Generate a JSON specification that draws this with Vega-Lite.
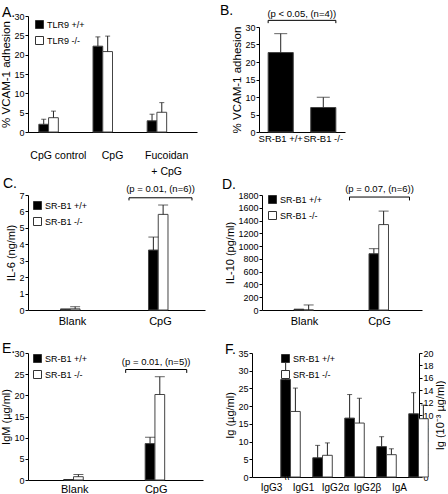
{
  "$schema": "https://vega.github.io/schema/vega-lite/v6.json",
  "padding": {"left": 0, "top": 4, "right": 0, "bottom": 0},
  "config": {
    "font": "Liberation Sans",
    "view": {"stroke": null},
    "axis": {"domainColor": "#000", "tickColor": "#000", "labelColor": "#000", "titleColor": "#000", "grid": false, "labelFontSize": 9, "titleFontSize": 11, "titleFontWeight": "normal", "tickSize": 3, "labelPadding": 1, "titlePadding": 2, "labelOverlap": false},
    "axisY": {"labelOverlap": false, "tickCount": 40, "format": "d"},
    "axisX": {"ticks": false, "labelAngle": 0, "labelFontSize": 11, "labelPadding": 5},
    "legend": {"orient": "none", "symbolType": "square", "symbolSize": 64, "symbolStrokeColor": "#333", "symbolStrokeWidth": 1, "labelFontSize": 9, "rowPadding": 3, "labelOffset": 3, "padding": 0},
    "title": {"fontSize": 14, "fontWeight": "normal", "anchor": "start", "frame": "group", "baseline": "alphabetic", "offset": 0},
    "text": {"fontSize": 9.5},
    "tick": {"thickness": 1}
  },
  "resolve": {"scale": {"fill": "independent"}, "legend": {"fill": "independent"}},
  "spacing": 16,
  "vconcat": [
    {
      "resolve": {"scale": {"fill": "independent"}, "legend": {"fill": "independent"}},
      "spacing": 0,
      "vconcat": [
        {
          "resolve": {"scale": {"fill": "independent"}, "legend": {"fill": "independent"}},
          "spacing": 23,
          "hconcat": [
            {
              "width": 169, "height": 116,
              "title": {"text": "A.", "dx": -26, "dy": 11.5},
              "data": {"values": [
                {"c": "CpG control", "g": "TLR9 +/+", "v": 2.0, "e": 3.3},
                {"c": "CpG control", "g": "TLR9 -/-", "v": 3.7, "e": 5.4},
                {"c": "CpG", "g": "TLR9 +/+", "v": 22.2, "e": 24.6},
                {"c": "CpG", "g": "TLR9 -/-", "v": 20.8, "e": 24.8},
                {"c": "Fucoidan + CpG", "g": "TLR9 +/+", "v": 2.9, "e": 4.6},
                {"c": "Fucoidan + CpG", "g": "TLR9 -/-", "v": 5.1, "e": 7.6}
              ]},
              "encoding": {
                "x": {"field": "c", "type": "nominal", "title": null, "scale": {"domain": ["CpG control", "CpG", "Fucoidan + CpG"], "paddingInner": 0.28, "paddingOuter": 0.2}, "axis": {"labelFontSize": 10.5, "labelPadding": 18, "labelLineHeight": 16, "labelExpr": "datum.value == 'Fucoidan + CpG' ? ['Fucoidan', '+ CpG'] : datum.label"}},
                "xOffset": {"field": "g", "type": "nominal", "scale": {"domain": ["TLR9 +/+", "TLR9 -/-"]}}
              },
              "layer": [
                {"mark": {"type": "bar", "stroke": "#444", "strokeWidth": 1},
                 "encoding": {
                   "y": {"field": "v", "type": "quantitative", "title": "% VCAM-1 adhesion", "scale": {"domain": [0, 30]}, "axis": {"values": [0, 5, 10, 15, 20, 25, 30], "tickCount": 40, "format": "d", "titleFontSize": 11.5, "labelOverlap": false}},
                   "fill": {"field": "g", "type": "nominal", "scale": {"domain": ["TLR9 +/+", "TLR9 -/-"], "range": ["#000", "#fff"]}, "legend": {"title": null, "legendX": 7, "legendY": 4}}
                 }},
                {"mark": {"type": "rule", "color": "#222"},
                 "encoding": {"y": {"field": "v", "type": "quantitative", "title": "% VCAM-1 adhesion"}, "y2": {"field": "e"}}},
                {"mark": {"type": "tick", "orient": "horizontal", "size": 5, "color": "#222"},
                 "encoding": {"y": {"field": "e", "type": "quantitative", "title": "% VCAM-1 adhesion"}}}
              ]
            },
            {
              "width": 86, "height": 116,
              "title": {"text": "B.", "dx": -39, "dy": 13.6},
              "layer": [
                {
                  "data": {"values": [
                    {"g": "SR-B1 +/+", "v": 22.7, "e": 28.1},
                    {"g": "SR-B1 -/-", "v": 7.0, "e": 9.9}
                  ]},
                  "encoding": {
                    "x": {"field": "g", "type": "nominal", "title": null, "scale": {"domain": ["SR-B1 +/+", "SR-B1 -/-"], "paddingInner": 0.41, "paddingOuter": 0.215}, "axis": {"labelFontSize": 9.5, "labelPadding": 1}}
                  },
                  "layer": [
                    {"mark": {"type": "bar", "stroke": "#444", "strokeWidth": 1},
                     "encoding": {
                       "y": {"field": "v", "type": "quantitative", "title": "% VCAM-1 adhesion", "scale": {"domain": [0, 30], "range": [116, 11]}, "axis": {"values": [0, 5, 10, 15, 20, 25, 30], "tickCount": 40, "format": "d", "titleFontSize": 11.5, "labelOverlap": false}},
                       "fill": {"value": "#000"}
                     }},
                    {"mark": {"type": "rule", "color": "#222"},
                     "encoding": {"y": {"field": "v", "type": "quantitative", "title": "% VCAM-1 adhesion"}, "y2": {"field": "e"}}},
                    {"mark": {"type": "tick", "orient": "horizontal", "size": 13, "color": "#222"},
                     "encoding": {"y": {"field": "e", "type": "quantitative", "title": "% VCAM-1 adhesion"}}}
                  ]
                },
                {
                  "data": {"values": [{"a": "SR-B1 +/+", "b": "SR-B1 -/-", "y": 31.9, "y2": 31.1, "ty": 32.9, "t": "(p < 0.05, (n=4))"}]},
                  "layer": [
                    {"mark": {"type": "rule", "color": "#000"},
                     "encoding": {"x": {"field": "a", "type": "nominal", "bandPosition": 0}, "x2": {"field": "b", "bandPosition": 1}, "y": {"field": "y", "type": "quantitative", "title": "% VCAM-1 adhesion"}}},
                    {"mark": {"type": "rule", "color": "#000"},
                     "encoding": {"x": {"field": "a", "type": "nominal", "bandPosition": 0}, "y": {"field": "y", "type": "quantitative", "title": "% VCAM-1 adhesion"}, "y2": {"field": "y2"}}},
                    {"mark": {"type": "rule", "color": "#000"},
                     "encoding": {"x": {"field": "b", "type": "nominal", "bandPosition": 1}, "y": {"field": "y", "type": "quantitative", "title": "% VCAM-1 adhesion"}, "y2": {"field": "y2"}}},
                    {"mark": {"type": "text", "dx": -9, "baseline": "alphabetic"},
                     "encoding": {"x": {"field": "b", "type": "nominal", "bandPosition": 0}, "y": {"field": "ty", "type": "quantitative", "title": "% VCAM-1 adhesion"}, "text": {"field": "t"}}}
                  ]
                }
              ]
            }
          ]
        },
        {
          "resolve": {"scale": {"fill": "independent"}, "legend": {"fill": "independent"}},
          "spacing": 17,
          "hconcat": [
            {
              "width": 177, "height": 115,
              "title": {"text": "C.", "dx": -25, "dy": 11.1},
              "layer": [
                {
                  "data": {"values": [
                    {"c": "Blank", "g": "SR-B1 +/+", "v": 0.05, "e": 0.06},
                    {"c": "Blank", "g": "SR-B1 -/-", "v": 0.07, "e": 0.2},
                    {"c": "CpG", "g": "SR-B1 +/+", "v": 3.65, "e": 4.44},
                    {"c": "CpG", "g": "SR-B1 -/-", "v": 5.82, "e": 6.39}
                  ]},
                  "encoding": {
                    "x": {"field": "c", "type": "nominal", "title": null, "scale": {"domain": ["Blank", "CpG"], "paddingInner": 0.284, "paddingOuter": 0.148}},
                    "xOffset": {"field": "g", "type": "nominal", "scale": {"domain": ["SR-B1 +/+", "SR-B1 -/-"]}}
                  },
                  "layer": [
                    {"mark": {"type": "bar", "stroke": "#444", "strokeWidth": 1},
                     "encoding": {
                       "y": {"field": "v", "type": "quantitative", "title": "IL-6 (ng/ml)", "scale": {"domain": [0, 7]}, "axis": {"values": [0, 1, 2, 3, 4, 5, 6, 7], "tickCount": 40, "format": "d", "labelOverlap": false}},
                       "fill": {"field": "g", "type": "nominal", "scale": {"domain": ["SR-B1 +/+", "SR-B1 -/-"], "range": ["#000", "#fff"]}, "legend": {"title": null, "legendX": 5, "legendY": 6}}
                     }},
                    {"mark": {"type": "rule", "color": "#222"},
                     "encoding": {"y": {"field": "v", "type": "quantitative", "title": "IL-6 (ng/ml)"}, "y2": {"field": "e"}}},
                    {"mark": {"type": "tick", "orient": "horizontal", "size": 10, "color": "#222"},
                     "encoding": {"y": {"field": "e", "type": "quantitative", "title": "IL-6 (ng/ml)"}}}
                  ]
                },
                {
                  "data": {"values": [{"c": "CpG", "y": 6.83, "y2": 6.67, "ty": 7.16, "t": "(p = 0.01, (n=6))"}]},
                  "layer": [
                    {"mark": {"type": "rule", "color": "#000"},
                     "encoding": {"x": {"field": "c", "type": "nominal", "bandPosition": 0}, "x2": {"field": "c", "bandPosition": 1}, "y": {"field": "y", "type": "quantitative", "title": "IL-6 (ng/ml)"}}},
                    {"mark": {"type": "rule", "color": "#000"},
                     "encoding": {"x": {"field": "c", "type": "nominal", "bandPosition": 0}, "y": {"field": "y", "type": "quantitative", "title": "IL-6 (ng/ml)"}, "y2": {"field": "y2"}}},
                    {"mark": {"type": "rule", "color": "#000"},
                     "encoding": {"x": {"field": "c", "type": "nominal", "bandPosition": 1}, "y": {"field": "y", "type": "quantitative", "title": "IL-6 (ng/ml)"}, "y2": {"field": "y2"}}},
                    {"mark": {"type": "text", "baseline": "alphabetic"},
                     "encoding": {"x": {"field": "c", "type": "nominal"}, "y": {"field": "ty", "type": "quantitative", "title": "IL-6 (ng/ml)"}, "text": {"field": "t"}}}
                  ]
                }
              ]
            },
            {
              "width": 160, "height": 115,
              "title": {"text": "D.", "dx": -40, "dy": 12.8},
              "layer": [
                {
                  "data": {"values": [
                    {"c": "Blank", "g": "SR-B1 +/+", "v": 10, "e": 12},
                    {"c": "Blank", "g": "SR-B1 -/-", "v": 0, "e": 79},
                    {"c": "CpG", "g": "SR-B1 +/+", "v": 881, "e": 960},
                    {"c": "CpG", "g": "SR-B1 -/-", "v": 1337, "e": 1548}
                  ]},
                  "encoding": {
                    "x": {"field": "c", "type": "nominal", "title": null, "scale": {"domain": ["Blank", "CpG"], "paddingInner": 0.2, "paddingOuter": 0.167}},
                    "xOffset": {"field": "g", "type": "nominal", "scale": {"domain": ["SR-B1 +/+", "SR-B1 -/-"]}}
                  },
                  "layer": [
                    {"mark": {"type": "bar", "stroke": "#444", "strokeWidth": 1},
                     "encoding": {
                       "y": {"field": "v", "type": "quantitative", "title": "IL-10 (pg/ml)", "scale": {"domain": [0, 1800]}, "axis": {"values": [0, 200, 400, 600, 800, 1000, 1200, 1400, 1600, 1800], "tickCount": 40, "format": "d", "labelOverlap": false}},
                       "fill": {"field": "g", "type": "nominal", "scale": {"domain": ["SR-B1 +/+", "SR-B1 -/-"], "range": ["#000", "#fff"]}, "legend": {"title": null, "legendX": 6, "legendY": 0}}
                     }},
                    {"mark": {"type": "rule", "color": "#222"},
                     "encoding": {"y": {"field": "v", "type": "quantitative", "title": "IL-10 (pg/ml)"}, "y2": {"field": "e"}}},
                    {"mark": {"type": "tick", "orient": "horizontal", "size": 10, "color": "#222"},
                     "encoding": {"y": {"field": "e", "type": "quantitative", "title": "IL-10 (pg/ml)"}}}
                  ]
                },
                {
                  "data": {"values": [{"c": "CpG", "y": 1768, "y2": 1715, "ty": 1852, "t": "(p = 0.07, (n=6))"}]},
                  "layer": [
                    {"mark": {"type": "rule", "color": "#000"},
                     "encoding": {"x": {"field": "c", "type": "nominal", "bandPosition": 0}, "x2": {"field": "c", "bandPosition": 1}, "y": {"field": "y", "type": "quantitative", "title": "IL-10 (pg/ml)"}}},
                    {"mark": {"type": "rule", "color": "#000"},
                     "encoding": {"x": {"field": "c", "type": "nominal", "bandPosition": 0}, "y": {"field": "y", "type": "quantitative", "title": "IL-10 (pg/ml)"}, "y2": {"field": "y2"}}},
                    {"mark": {"type": "rule", "color": "#000"},
                     "encoding": {"x": {"field": "c", "type": "nominal", "bandPosition": 1}, "y": {"field": "y", "type": "quantitative", "title": "IL-10 (pg/ml)"}, "y2": {"field": "y2"}}},
                    {"mark": {"type": "text", "baseline": "alphabetic"},
                     "encoding": {"x": {"field": "c", "type": "nominal"}, "y": {"field": "ty", "type": "quantitative", "title": "IL-10 (pg/ml)"}, "text": {"field": "t"}}}
                  ]
                }
              ]
            }
          ]
        }
      ]
    },
    {
      "resolve": {"scale": {"fill": "independent"}, "legend": {"fill": "independent"}},
      "spacing": 21,
      "hconcat": [
        {
          "width": 175, "height": 127,
          "title": {"text": "E.", "dx": -26, "dy": 11.4},
          "layer": [
            {
              "data": {"values": [
                {"c": "Blank", "g": "SR-B1 +/+", "v": 0.1, "e": 0.12},
                {"c": "Blank", "g": "SR-B1 -/-", "v": 0.78, "e": 1.3},
                {"c": "CpG", "g": "SR-B1 +/+", "v": 8.6, "e": 10.1},
                {"c": "CpG", "g": "SR-B1 -/-", "v": 20.2, "e": 24.4}
              ]},
              "encoding": {
                "x": {"field": "c", "type": "nominal", "title": null, "scale": {"domain": ["Blank", "CpG"], "paddingInner": 0.25, "paddingOuter": 0.2}, "axis": {"labelPadding": 3}},
                "xOffset": {"field": "g", "type": "nominal", "scale": {"domain": ["SR-B1 +/+", "SR-B1 -/-"]}}
              },
              "layer": [
                {"mark": {"type": "bar", "stroke": "#444", "strokeWidth": 1},
                 "encoding": {
                   "y": {"field": "v", "type": "quantitative", "title": "IgM (µg/ml)", "scale": {"domain": [0, 30]}, "axis": {"values": [0, 5, 10, 15, 20, 25, 30], "tickCount": 40, "format": "d", "labelOverlap": false}},
                   "fill": {"field": "g", "type": "nominal", "scale": {"domain": ["SR-B1 +/+", "SR-B1 -/-"], "range": ["#000", "#fff"]}, "legend": {"title": null, "legendX": 5, "legendY": 1}}
                 }},
                {"mark": {"type": "rule", "color": "#222"},
                 "encoding": {"y": {"field": "v", "type": "quantitative", "title": "IgM (µg/ml)"}, "y2": {"field": "e"}}},
                {"mark": {"type": "tick", "orient": "horizontal", "size": 10, "color": "#222"},
                 "encoding": {"y": {"field": "e", "type": "quantitative", "title": "IgM (µg/ml)"}}}
              ]
            },
            {
              "data": {"values": [{"c": "CpG", "y": 26.1, "y2": 25.3, "ty": 27.2, "t": "(p = 0.01, (n=5))"}]},
              "layer": [
                {"mark": {"type": "rule", "color": "#000"},
                 "encoding": {"x": {"field": "c", "type": "nominal", "bandPosition": 0}, "x2": {"field": "c", "bandPosition": 1}, "y": {"field": "y", "type": "quantitative", "title": "IgM (µg/ml)"}}},
                {"mark": {"type": "rule", "color": "#000"},
                 "encoding": {"x": {"field": "c", "type": "nominal", "bandPosition": 0}, "y": {"field": "y", "type": "quantitative", "title": "IgM (µg/ml)"}, "y2": {"field": "y2"}}},
                {"mark": {"type": "rule", "color": "#000"},
                 "encoding": {"x": {"field": "c", "type": "nominal", "bandPosition": 1}, "y": {"field": "y", "type": "quantitative", "title": "IgM (µg/ml)"}, "y2": {"field": "y2"}}},
                {"mark": {"type": "text", "baseline": "alphabetic"},
                 "encoding": {"x": {"field": "c", "type": "nominal"}, "y": {"field": "ty", "type": "quantitative", "title": "IgM (µg/ml)"}, "text": {"field": "t"}}}
              ]
            }
          ]
        },
        {
          "width": 167, "height": 124,
          "title": {"text": "F.", "dx": -27, "dy": 12.4},
          "resolve": {"scale": {"y": "independent"}},
          "layer": [
            {
              "layer": [
                {
                  "data": {"values": [
                    {"c": "IgG3", "g": "SR-B1 +/+", "v": 27.5, "e": 33.3},
                    {"c": "IgG3", "g": "SR-B1 -/-", "v": 18.5, "e": 25.1}
                  ]},
                  "encoding": {
                    "x": {"field": "c", "type": "nominal", "title": null, "scale": {"domain": ["IgG3", "IgG1", "IgG2α", "IgG2β", "IgA"], "paddingInner": 0.36, "paddingOuter": 0.29}, "axis": {"labelFontSize": 10, "labelPadding": 5}},
                    "xOffset": {"field": "g", "type": "nominal", "scale": {"domain": ["SR-B1 +/+", "SR-B1 -/-"]}}
                  },
                  "layer": [
                    {"mark": {"type": "bar", "stroke": "#444", "strokeWidth": 1},
                     "encoding": {
                       "y": {"field": "v", "type": "quantitative", "title": "Ig (µg/ml)", "scale": {"domain": [0, 35]}, "axis": {"values": [0, 5, 10, 15, 20, 25, 30, 35], "tickCount": 40, "format": "d", "labelOverlap": false}},
                       "fill": {"field": "g", "type": "nominal", "scale": {"domain": ["SR-B1 +/+", "SR-B1 -/-"], "range": ["#000", "#fff"]}, "legend": {"title": null, "legendX": 29, "legendY": 1}}
                     }},
                    {"mark": {"type": "rule", "color": "#222"},
                     "encoding": {"y": {"field": "v", "type": "quantitative", "title": "Ig (µg/ml)"}, "y2": {"field": "e"}}},
                    {"mark": {"type": "tick", "orient": "horizontal", "size": 5, "color": "#222"},
                     "encoding": {"y": {"field": "e", "type": "quantitative", "title": "Ig (µg/ml)"}}}
                  ]
                },
                {
                  "data": {"values": [{"c": "IgG1", "v": 0}]},
                  "mark": {"type": "text", "text": "\\\\", "dx": -7, "fontSize": 10, "baseline": "middle"},
                  "encoding": {
                    "x": {"field": "c", "type": "nominal", "bandPosition": 0},
                    "y": {"field": "v", "type": "quantitative", "title": "Ig (µg/ml)"}
                  }
                }
              ]
            },
            {
              "data": {"values": [
                {"c": "IgG1", "g": "SR-B1 +/+", "v": 3.1, "e": 5.1},
                {"c": "IgG1", "g": "SR-B1 -/-", "v": 3.5, "e": 5.5},
                {"c": "IgG2α", "g": "SR-B1 +/+", "v": 9.5, "e": 13.3},
                {"c": "IgG2α", "g": "SR-B1 -/-", "v": 8.7, "e": 12.7},
                {"c": "IgG2β", "g": "SR-B1 +/+", "v": 4.9, "e": 6.5},
                {"c": "IgG2β", "g": "SR-B1 -/-", "v": 3.6, "e": 4.55},
                {"c": "IgA", "g": "SR-B1 +/+", "v": 10.2, "e": 13.6},
                {"c": "IgA", "g": "SR-B1 -/-", "v": 9.4, "e": 11.6}
              ]},
              "encoding": {
                "x": {"field": "c", "type": "nominal", "title": null, "scale": {"domain": ["IgG3", "IgG1", "IgG2α", "IgG2β", "IgA"]}},
                "xOffset": {"field": "g", "type": "nominal", "scale": {"domain": ["SR-B1 +/+", "SR-B1 -/-"]}}
              },
              "layer": [
                {"mark": {"type": "bar", "stroke": "#444", "strokeWidth": 1},
                 "encoding": {
                   "y": {"field": "v", "type": "quantitative", "title": "Ig (10⁻³ µg/ml)", "scale": {"domain": [0, 20]}, "axis": {"orient": "right", "values": [0, 2, 4, 6, 8, 10, 12, 14, 16, 18, 20], "tickCount": 40, "format": "d", "titleAngle": 270, "titleBaseline": "top", "titlePadding": 1, "labelOverlap": false}},
                   "fill": {"field": "g", "type": "nominal", "scale": {"domain": ["SR-B1 +/+", "SR-B1 -/-"], "range": ["#000", "#fff"]}, "legend": {"title": null, "legendX": 29, "legendY": 1}}
                 }},
                {"mark": {"type": "rule", "color": "#222"},
                 "encoding": {"y": {"field": "v", "type": "quantitative", "title": "Ig (10⁻³ µg/ml)"}, "y2": {"field": "e"}}},
                {"mark": {"type": "tick", "orient": "horizontal", "size": 5, "color": "#222"},
                 "encoding": {"y": {"field": "e", "type": "quantitative", "title": "Ig (10⁻³ µg/ml)"}}}
              ]
            }
          ]
        }
      ]
    }
  ]
}
